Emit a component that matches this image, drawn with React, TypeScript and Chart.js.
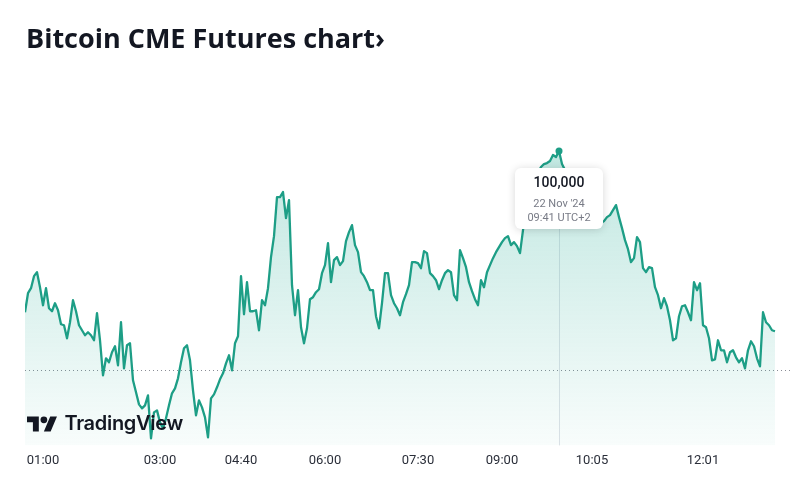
import React, { useEffect, useRef } from "react";
import { Chart, registerables } from "chart.js";

Chart.register(...registerables);

// Bitcoin CME futures price, one sample per step along the session
const prices: number[] = [
  98390, 98580, 98630, 98750, 98790, 98640, 98460, 98630, 98430, 98400,
  98480, 98410, 98270, 98260, 98130, 98290, 98510, 98400, 98260, 98210,
  98160, 98190, 98160, 98110, 98380, 98110, 97760, 97930, 97890, 97990,
  98050, 97860, 98290, 97830, 98060, 98080, 97710, 97590, 97470, 97430,
  97460, 97560, 97130, 97390, 97410, 97290, 97230, 97330, 97460, 97580,
  97630, 97730, 97890, 98030, 98060, 97910, 97610, 97360, 97510, 97440,
  97340, 97140, 97530, 97570, 97640, 97720, 97780, 97880, 97960, 97810,
  98080, 98150, 98750, 98370, 98690, 98400, 98400, 98410, 98210, 98510,
  98460, 98630, 98940, 99150, 99540, 99540, 99590, 99330, 99510, 98660,
  98360, 98610, 98240, 98080, 98230, 98520, 98540, 98590, 98620, 98780,
  98860, 99080, 98690, 98910, 98940, 98860, 98900, 99100, 99190, 99260,
  99060, 98990, 98790, 98750, 98690, 98610, 98610, 98350, 98230, 98480,
  98780, 98780, 98560, 98480, 98430, 98360, 98490, 98570, 98660, 98890,
  98890, 98880, 98830, 99000, 98980, 98780, 98750, 98710, 98620, 98710,
  98780, 98810, 98790, 98560, 98510, 99010, 98930, 98840, 98690, 98600,
  98520, 98460, 98710, 98640, 98790, 98860, 98930, 98990, 99040, 99090,
  99130, 99150, 99060, 99090, 99050, 98980, 99210, 99390, 99530, 99630,
  99710, 99790, 99840, 99870, 99880, 99900, 99960, 99940, 100000, 99870,
  99810, 99710, 99610, 99540, 99480, 99430, 99390, 99350, 99320, 99290,
  99310, 99270, 99280, 99300, 99340, 99360, 99410, 99460, 99340, 99230,
  99110, 99020, 98890, 98930, 99140, 99090, 98830, 98790, 98840, 98830,
  98640, 98560, 98430, 98530, 98450, 98310, 98110, 98130, 98350, 98450,
  98460, 98390, 98310, 98690, 98610, 98680, 98260, 98240, 98130, 97910,
  97920, 98110, 98010, 98010, 97890, 97990, 98010, 97940, 97890, 97930,
  97830, 98010, 98100, 98050, 97930, 97850, 98390, 98290, 98260, 98210,
  98200,
];

const tickIndices: number[] = [6, 45, 72, 100, 131, 159, 189, 226];
const tickLabels: string[] = ["01:00", "03:00", "04:40", "06:00", "07:30", "09:00", "10:05", "12:01"];
const sessionLength = 256;
const previousClose = 97810;
const priceMin = 97060;
const priceMax = 100210;
const highlightIndex = 178;
const tooltipDate = "22 Nov '24";
const tooltipTime = "09:41 UTC+2";

const LINE = "#1d9e86";

const overlayPlugin = {
  id: "tvOverlay",
  beforeDatasetsDraw(chart: any) {
    const { ctx, chartArea, scales } = chart;
    const yPc = Math.round(scales.y.getPixelForValue(previousClose)) + 0.5;
    ctx.save();
    ctx.strokeStyle = "#8a8d96";
    ctx.lineWidth = 1;
    ctx.setLineDash([1, 3]);
    ctx.beginPath();
    ctx.moveTo(chartArea.left, yPc);
    ctx.lineTo(chartArea.right, yPc);
    ctx.stroke();
    ctx.setLineDash([]);
    const px = Math.round(scales.x.getPixelForValue(highlightIndex)) + 0.5;
    const py = scales.y.getPixelForValue(prices[highlightIndex]);
    const boxBottom = py + 17 + 61;
    ctx.strokeStyle = "#dfe2e8";
    ctx.beginPath();
    ctx.moveTo(px, boxBottom);
    ctx.lineTo(px, chartArea.bottom);
    ctx.stroke();
    ctx.restore();
  },
  afterDatasetsDraw(chart: any) {
    const { ctx, scales } = chart;
    const px = scales.x.getPixelForValue(highlightIndex);
    const py = scales.y.getPixelForValue(prices[highlightIndex]);
    const w = 88;
    const h = 61;
    const x0 = px - w / 2;
    const y0 = py + 17;
    ctx.save();
    ctx.shadowColor = "rgba(0,0,0,0.16)";
    ctx.shadowBlur = 8;
    ctx.shadowOffsetY = 1;
    ctx.fillStyle = "#ffffff";
    ctx.beginPath();
    (ctx as any).roundRect(x0, y0, w, h, 6);
    ctx.fill();
    ctx.shadowColor = "transparent";
    ctx.textAlign = "center";
    ctx.textBaseline = "middle";
    ctx.fillStyle = "#131722";
    ctx.font = "500 14px Roboto";
    ctx.fillText(prices[highlightIndex].toLocaleString("en-US"), px, y0 + 15);
    ctx.fillStyle = "#787b86";
    ctx.font = "11px Roboto";
    ctx.fillText(tooltipDate, px, y0 + 36);
    ctx.fillText(tooltipTime, px, y0 + 50);
    ctx.restore();
  },
};

export default function App() {
  const canvasRef = useRef<HTMLCanvasElement | null>(null);

  useEffect(() => {
    const canvas = canvasRef.current;
    if (!canvas) return;
    const chart = new Chart(canvas, {
      type: "line",
      data: {
        datasets: [
          {
            data: prices.map((v, i) => ({ x: i, y: v })),
            borderColor: LINE,
            borderWidth: 2.3,
            borderJoinStyle: "round",
            tension: 0,
            fill: "start",
            backgroundColor: (c: any) => {
              const area = c.chart.chartArea;
              if (!area) return "rgba(34,171,148,0.15)";
              const g = c.chart.ctx.createLinearGradient(0, area.top, 0, area.bottom);
              g.addColorStop(0, "rgba(34,171,148,0.30)");
              g.addColorStop(1, "rgba(34,171,148,0.03)");
              return g;
            },
            pointRadius: (c: any) => (c.dataIndex === highlightIndex ? 3.5 : 0),
            pointHoverRadius: 0,
            pointBackgroundColor: LINE,
            pointBorderColor: LINE,
            pointBorderWidth: 0,
          },
        ],
      },
      options: {
        animation: false,
        responsive: false,
        devicePixelRatio: 1,
        events: [],
        layout: { padding: { left: 25, right: 7, top: 130, bottom: 25 } },
        plugins: { legend: { display: false }, tooltip: { enabled: false } },
        scales: {
          x: {
            type: "linear",
            min: 0,
            max: sessionLength,
            grid: { display: false, drawTicks: false },
            border: { display: false },
            afterBuildTicks: (scale: any) => {
              scale.ticks = tickIndices.map((v) => ({ value: v }));
            },
            ticks: {
              autoSkip: false,
              maxRotation: 0,
              padding: 8,
              color: "#2a2e39",
              font: { family: "Roboto", size: 13 },
              callback: (_v: any, idx: number) => tickLabels[idx],
            },
          },
          y: { display: false, min: priceMin, max: priceMax },
        },
      },
      plugins: [overlayPlugin],
    } as any);
    return () => chart.destroy();
  }, []);

  return (
    <div style={{ position: "fixed", left: 0, top: 0, width: 800, height: 502, background: "#fff", overflow: "hidden" }}>
      <canvas ref={canvasRef} width={800} height={502} style={{ position: "absolute", left: 0, top: 0 }} />
      <div
        style={{
          position: "absolute",
          left: 26,
          top: 20,
          fontFamily: "'Open Sans', sans-serif",
          fontWeight: 700,
          fontSize: 27,
          lineHeight: "36px",
          color: "#131722",
          whiteSpace: "nowrap",
        }}
      >
        Bitcoin CME Futures chart›
      </div>
      <div style={{ position: "absolute", left: 27, top: 411, display: "flex", alignItems: "flex-start" }}>
        <svg width={30.4} height={23.7} viewBox="0 0 36 28" style={{ marginTop: 2 }}>
          <path d="M14 22H7V11H0V4h14v18zM28 22h-8l7.5-18h8L28 22z" fill="#131722" />
          <circle cx={20} cy={8} r={4} fill="#131722" />
        </svg>
        <span
          style={{
            marginLeft: 7,
            fontFamily: "Inter, sans-serif",
            fontWeight: 600,
            fontSize: 20,
            lineHeight: "24px",
            color: "#131722",
            letterSpacing: -0.3,
          }}
        >
          TradingView
        </span>
      </div>
    </div>
  );
}
